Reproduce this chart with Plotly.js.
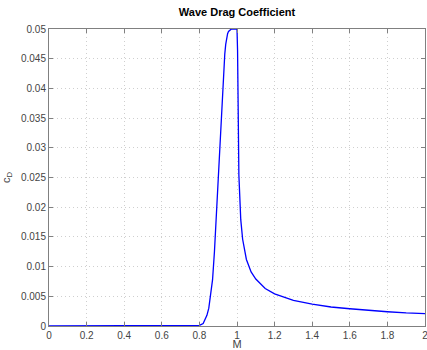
<!DOCTYPE html>
<html><head><meta charset="utf-8">
<script src="https://cdn.plot.ly/plotly-3.0.1.min.js"></script>
<style>html,body{margin:0;padding:0;background:#fff}#chart{width:427px;height:350px}</style>
</head><body><div id="chart"></div>
<script>
// Mach number (x) and wave drag coefficient (y)
const machValues = [0, 0.78, 0.80, 0.82, 0.83, 0.84, 0.85, 0.86, 0.87, 0.88, 0.89, 0.90, 0.91, 0.92, 0.925, 0.93, 0.935, 0.94, 0.945, 0.95, 0.955, 0.96, 0.965, 0.97, 0.98, 0.99, 1.0,
  1.003, 1.005, 1.01, 1.02, 1.03, 1.05, 1.075, 1.1, 1.15, 1.2, 1.3, 1.4, 1.5, 1.6, 1.7, 1.8, 1.9, 2.0];
const cdValues = [0, 0, 0.0001, 0.0004, 0.0010, 0.0018, 0.0030, 0.0050, 0.0078, 0.0125, 0.0185, 0.0250, 0.0315, 0.0375, 0.0410, 0.0438, 0.0458, 0.0474, 0.0485, 0.0492, 0.0496, 0.0498, 0.0499, 0.0500, 0.0500, 0.0500, 0.0500,
  0.0464, 0.0360, 0.0254, 0.0179, 0.0146, 0.0112, 0.0091, 0.0079, 0.0063, 0.0054, 0.0043, 0.0037, 0.0032, 0.0029, 0.0026, 0.0024, 0.0022, 0.0021];
const xTicks = [0, 0.2, 0.4, 0.6, 0.8, 1, 1.2, 1.4, 1.6, 1.8, 2];
const xTickLabels = ["0", "0.2", "0.4", "0.6", "0.8", "1", "1.2", "1.4", "1.6", "1.8", "2"];
const yTicks = [0, 0.005, 0.01, 0.015, 0.02, 0.025, 0.03, 0.035, 0.04, 0.045, 0.05];
const yTickLabels = ["0", "0.005", "0.01", "0.015", "0.02", "0.025", "0.03", "0.035", "0.04", "0.045", "0.05"];

const axisCommon = {
  showline: true, linecolor: '#808080', linewidth: 1, mirror: 'ticks',
  ticks: 'inside', ticklen: 4, tickcolor: '#808080', tickwidth: 1,
  showgrid: true, gridcolor: '#cfcfcf', griddash: '1px,3px', gridwidth: 1,
  zeroline: false, tickfont: {size: 10, color: '#444'}, ticklabeloverflow: 'allow'
};

Plotly.newPlot('chart', [{
  x: machValues, y: cdValues, type: 'scatter', mode: 'lines',
  line: {color: '#0000ff', width: 1.3}, hoverinfo: 'none'
}], {
  width: 427, height: 350,
  margin: {l: 49, r: 2, t: 29, b: 24},
  paper_bgcolor: '#fff', plot_bgcolor: '#fff',
  font: {family: 'Liberation Sans, Arial, sans-serif', color: '#444'},
  title: {text: '<b>Wave Drag Coefficient</b>', font: {size: 11, color: '#000'}, x: 0.555, xanchor: 'center', y: 0.965, yanchor: 'middle'},
  showlegend: false,
  xaxis: Object.assign({}, axisCommon, {
    range: [0, 2], tickvals: xTicks, ticktext: xTickLabels,
    title: {text: 'M', font: {size: 11, color: '#444'}, standoff: 3}
  }),
  yaxis: Object.assign({}, axisCommon, {
    range: [0, 0.05], tickvals: yTicks, ticktext: yTickLabels,
    title: {text: 'c<sub>D</sub>', font: {size: 11, color: '#444'}, standoff: 9}
  })
}, {displayModeBar: false, staticPlot: true});
</script></body></html>
